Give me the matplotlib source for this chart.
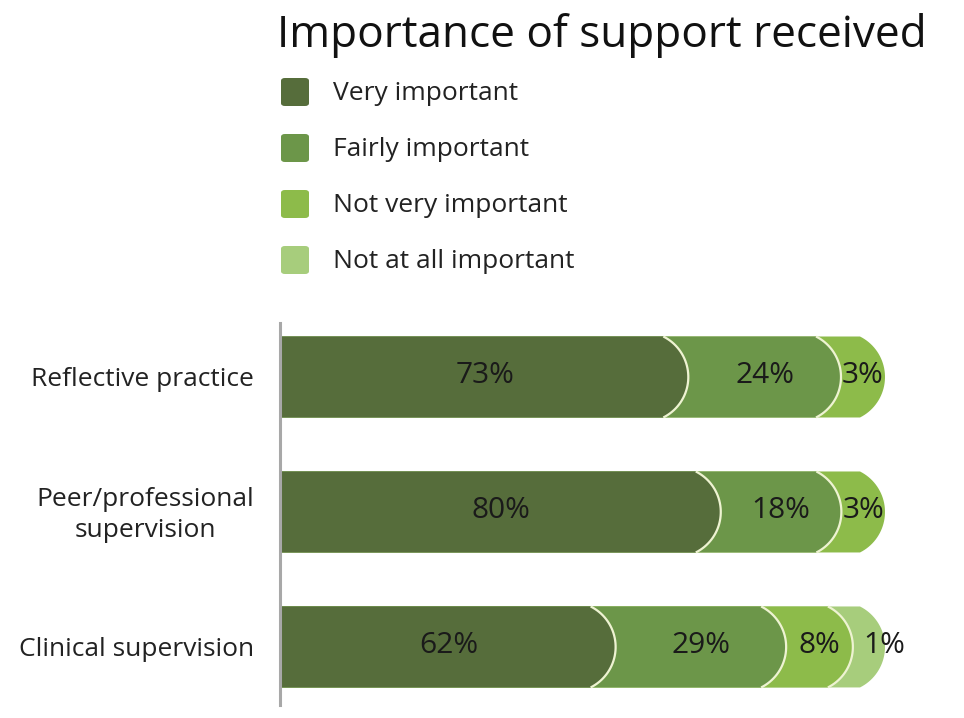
import numpy as np
import matplotlib.pyplot as plt
from matplotlib.transforms import blended_transform_factory
from matplotlib.patches import FancyBboxPatch

plt.rcParams['font.family'] = ['Open Sans', 'DejaVu Sans']

# data
title = 'Importance of support received'
categories = ['Reflective practice', 'Peer/professional\nsupervision', 'Clinical supervision']
levels = ['Very important', 'Fairly important', 'Not very important', 'Not at all important']
very_important = [73, 80, 62]
fairly_important = [24, 18, 29]
not_very_important = [3, 3, 8]
not_at_all_important = [0, 0, 1]

colors = ['#566d3b', '#6c9649', '#8dbb4a', '#a7cd7c']
edge_col = '#eef3d2'

# original chart gives small segments a bit of extra room so labels fit
PAD = 5.5
BULGE_PX = 25     # how far the arrow end sticks out
BAR_H = 0.6

W, H = 964, 718
AX_L, AX_R, AX_T, AX_B = 282, 885, 323, 705
fig = plt.figure(figsize=(W / 100, H / 100), dpi=100)
ax = fig.add_axes([AX_L / W, 1 - AX_B / H, (AX_R - AX_L) / W, (AX_B - AX_T) / H])
ax.set_xlim(0, 100)
ax.set_ylim(2.43, -0.4)

# pixel size of one data unit, for drawing a true circular arc
px_x = (AX_R - AX_L) / 100
px_y = (AX_B - AX_T) / (2.43 + 0.4)


def arc_points(tip, y):
    half = BAR_H / 2 * px_y
    s = BULGE_PX
    r = (half ** 2 + s ** 2) / (2 * s)
    a = np.arcsin(half / r)
    ang = np.linspace(-a, a, 40)
    xs = tip + (r * np.cos(ang) - r) / px_x
    ys = y + r * np.sin(ang) / px_y
    return xs, ys


rows = list(zip(very_important, fairly_important, not_very_important, not_at_all_important))
for i, vals in enumerate(rows):
    segs = [(j, v) for j, v in enumerate(vals) if v > 0]
    widths = np.array([v + PAD for _, v in segs], dtype=float)
    tips = np.cumsum(widths) / widths.sum() * 100
    # draw from the longest cumulative shape to the shortest
    for n in range(len(segs) - 1, -1, -1):
        j = segs[n][0]
        xs, ys = arc_points(tips[n], i)
        px = np.concatenate([[0], xs, [0]])
        py = np.concatenate([[i - BAR_H / 2], ys, [i + BAR_H / 2]])
        ax.fill(px, py, color=colors[j], lw=0, zorder=2)
        if n < len(segs) - 1:
            ax.plot(xs, ys, color=edge_col, lw=1.6, zorder=3, solid_capstyle='butt')
    starts = np.concatenate([[0], tips[:-1]])
    for n, (j, v) in enumerate(segs):
        xc = (starts[n] + tips[n]) / 2
        if n == len(segs) - 1 and len(segs) > 3:
            xc += 2.5
        ax.text(xc, i - 0.01, f'{v}%', ha='center', va='center', fontsize=21.5, color='#1a1a1a', zorder=4)

# category labels, right aligned block with centred lines
trans = blended_transform_factory(ax.transAxes, ax.transData)
for i, cat in enumerate(categories):
    ax.text(-28 / (AX_R - AX_L), i + 0.02, cat, transform=trans, ha='right', va='center',
            multialignment='center', fontsize=19, color='#222222', linespacing=1.3)

ax.set_yticks([])
ax.set_xticks([])
for s in ['top', 'right', 'bottom']:
    ax.spines[s].set_visible(False)
ax.spines['left'].set_color('#a8a8a8')
ax.spines['left'].set_linewidth(2.2)
ax.spines['left'].set_position(('data', -0.35))

# title
fig.text(277 / W, 1 - 36 / H, title, ha='left', va='center', fontsize=31.8, color='#111111')

# legend
for k, lev in enumerate(levels):
    yc = 92 + k * 56
    sq = FancyBboxPatch((281 / W, 1 - (yc + 14) / H), 28 / W, 28 / H,
                        boxstyle='round,pad=0,rounding_size=0.004', transform=fig.transFigure,
                        facecolor=colors[k], edgecolor='none')
    fig.add_artist(sq)
    fig.text(333 / W, 1 - (yc + 1) / H, lev, ha='left', va='center', fontsize=19, color='#222222')

fig.savefig('out.png', dpi=100)
